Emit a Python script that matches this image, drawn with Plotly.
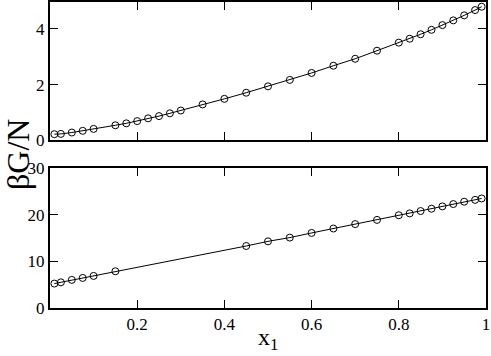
import plotly.graph_objects as go
from plotly.subplots import make_subplots

# top panel
x_top = [0.01, 0.025, 0.05, 0.075, 0.1, 0.15, 0.175, 0.2, 0.225, 0.25, 0.275, 0.3,
         0.35, 0.4, 0.45, 0.5, 0.55, 0.6, 0.65, 0.7, 0.75, 0.8, 0.825, 0.85, 0.875,
         0.9, 0.925, 0.95, 0.975, 0.99]
g_top = [0.22, 0.23, 0.28, 0.34, 0.41, 0.54, 0.61, 0.69, 0.79, 0.87, 0.97, 1.07,
         1.29, 1.49, 1.71, 1.94, 2.17, 2.42, 2.68, 2.93, 3.22, 3.51, 3.65, 3.81, 3.97,
         4.14, 4.31, 4.49, 4.68, 4.80]

# bottom panel
x_bot = [0.01, 0.025, 0.05, 0.075, 0.1, 0.15, 0.45, 0.5, 0.55, 0.6, 0.65, 0.7, 0.75,
         0.8, 0.825, 0.85, 0.875, 0.9, 0.925, 0.95, 0.975, 0.99]
g_bot = [5.24, 5.51, 6.03, 6.45, 6.88, 7.88, 13.3, 14.3, 15.1, 16.1, 17.05, 18.0, 18.9,
         19.9, 20.3, 20.8, 21.3, 21.8, 22.3, 22.8, 23.2, 23.5]

x_ticks = [0.2, 0.4, 0.6, 0.8, 1.0]
x_ticktext = ["0.2", "0.4", "0.6", "0.8", "1"]

SERIF = "Liberation Serif"

fig = make_subplots(rows=2, cols=1, shared_xaxes=False)

style = dict(mode="lines+markers",
             line=dict(color="black", width=1),
             marker=dict(symbol="circle-open", size=7, color="black", line=dict(width=1)),
             showlegend=False)
fig.add_trace(go.Scatter(x=x_top, y=g_top, **style), row=1, col=1)
fig.add_trace(go.Scatter(x=x_bot, y=g_bot, **style), row=2, col=1)

axis_common = dict(showline=True, linecolor="black", linewidth=2, mirror="ticks",
                   ticks="inside", ticklen=8, tickwidth=1, tickcolor="black",
                   showgrid=False, zeroline=False, automargin=False,
                   tickfont=dict(family=SERIF, size=17, color="black"))

fig.update_xaxes(range=[0, 1], tickvals=x_ticks, **axis_common)
fig.update_xaxes(showticklabels=False, row=1, col=1)
fig.update_xaxes(ticktext=x_ticktext, row=2, col=1)
fig.update_yaxes(range=[0, 4.97], tickvals=[0, 2, 4], **axis_common, row=1, col=1)
fig.update_yaxes(range=[0, 30], tickvals=[0, 10, 20, 30], **axis_common, row=2, col=1)

fig.update_layout(
    width=491, height=356,
    margin=dict(l=50, r=5, t=2, b=48, pad=0),
    font=dict(family=SERIF, color="black"),
    plot_bgcolor="white", paper_bgcolor="white",
    yaxis=dict(domain=[0.548, 1]),
    yaxis2=dict(domain=[0, 0.457]),
    annotations=[
        dict(text="βG/N", x=0.0, y=0.5, xref="paper", yref="paper", xanchor="center",
             yanchor="middle", xshift=-32, textangle=-90, showarrow=False,
             font=dict(family=SERIF, size=32, color="black")),
        dict(text="x<sub>1</sub>", x=0.5, y=0, xref="paper", yref="paper",
             xanchor="center", yanchor="bottom", yshift=-48, showarrow=False,
             font=dict(family=SERIF, size=24, color="black")),
    ],
)

fig.write_html("out.html", config={"displayModeBar": False},
               post_script="document.body.style.margin='0';"
                           "document.body.style.overflow='hidden';")
